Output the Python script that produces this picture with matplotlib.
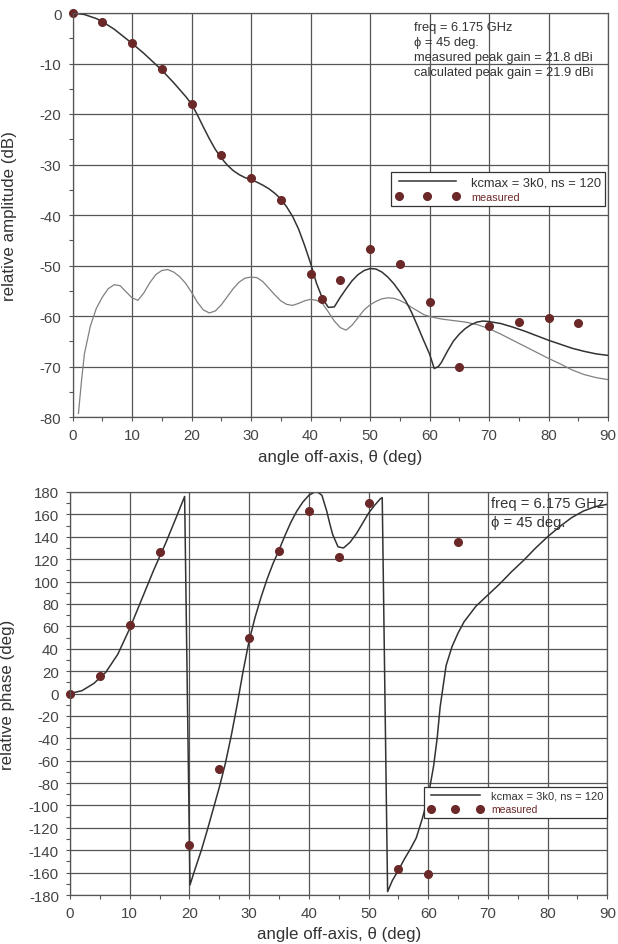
import matplotlib
matplotlib.use("Agg")
import matplotlib.pyplot as plt
from matplotlib.ticker import MultipleLocator

plt.rcParams['font.family'] = ['Liberation Sans', 'DejaVu Sans']
plt.rcParams['axes.unicode_minus'] = False

# ---- amplitude data ----
amp_theta = [0, 2, 4, 5, 7, 10, 12, 15, 17, 19, 20, 21, 22, 23, 24, 25, 26, 27, 28, 29,
             30, 31, 32, 33, 34, 35, 36, 37, 38, 39, 40, 41, 42, 43, 44, 45, 46, 47, 48, 49,
             50, 51, 52, 53, 54, 55, 56, 57, 58, 59, 60, 60.8, 61.5, 62, 63, 64, 65, 66, 67,
             68, 69, 70, 72, 74, 76, 78, 80, 82, 84, 86, 88, 90]
amp_calc = [0, -0.3, -1.1, -1.7, -3.2, -6.0, -8.0, -11.3, -13.8, -16.5, -18.0, -20.2, -22.6,
            -24.9, -27.0, -28.7, -30.1, -31.2, -32.0, -32.6, -33.0, -33.5, -34.1, -34.8,
            -35.7, -36.8, -38.4, -40.3, -42.8, -46.0, -49.5, -53.5, -56.5, -58.3, -58.2,
            -56.3, -54.6, -53.0, -51.8, -51.0, -50.6, -50.7, -51.3, -52.3, -53.6, -55.2,
            -57.0, -59.3, -62.0, -64.8, -67.5, -70.4, -70.0, -69.2, -67.0, -65.0, -63.6,
            -62.5, -61.7, -61.2, -61.0, -61.1, -61.5, -62.2, -63.0, -63.9, -64.8, -65.6,
            -66.4, -67.0, -67.5, -67.8]

xpol_theta = [1, 1.5, 2, 3, 4, 5, 6, 7, 8, 9, 10, 11, 12, 13, 14, 15, 16, 17, 18, 19, 20,
              21, 22, 23, 24, 25, 26, 27, 28, 29, 30, 31, 32, 33, 34, 35, 36, 37, 38, 39, 40,
              41, 42, 43, 44, 45, 46, 47, 48, 49, 50, 51, 52, 53, 54, 55, 56, 57, 58, 59, 60,
              62, 64, 66, 68, 70, 72, 74, 76, 78, 80, 82, 84, 86, 88, 90]
xpol_calc = [-79.3, -73.0, -67.5, -62.0, -58.5, -56.3, -54.6, -53.8, -54.0, -55.2, -56.4,
             -56.9, -55.4, -53.4, -51.8, -51.0, -50.8, -51.3, -52.2, -53.5, -55.3, -57.3,
             -58.8, -59.4, -59.0, -57.8, -56.2, -54.6, -53.3, -52.5, -52.3, -52.4, -53.2,
             -54.5, -55.8, -57.0, -57.7, -57.9, -57.5, -57.0, -56.7, -56.9, -57.5, -59.2,
             -61.0, -62.3, -62.8, -61.8, -60.3, -58.8, -57.8, -57.1, -56.6, -56.4, -56.5,
             -56.9, -57.5, -58.3, -59.0, -59.7, -60.1, -60.6, -60.9, -61.2, -61.7, -62.5,
             -63.6, -64.8, -66.0, -67.2, -68.4, -69.5, -70.7, -71.6, -72.2, -72.6]

amp_meas_theta = [0, 5, 10, 15, 20, 25, 30, 35, 40, 42, 45, 50, 55, 60, 65, 70, 75, 80, 85]
amp_meas = [0, -1.7, -6.0, -11.0, -18.1, -28.2, -32.6, -37.0, -51.6, -56.6, -52.9, -46.7,
            -49.8, -57.3, -70.1, -62.0, -61.1, -60.4, -61.3]

# ---- phase data ----
ph_theta = [0, 2, 4, 5, 6, 8, 10, 12, 14, 15, 16, 17, 18, 19.2, 20.1, 21, 22, 23, 24, 25,
            26, 27, 28, 29, 30, 31, 32, 33, 34, 35, 36, 37, 38, 39, 40, 41, 41.6, 42.2, 43,
            43.5, 44, 44.9, 45.8, 46.9, 48, 49, 50, 51, 52, 52.3, 53.2, 54, 55, 56, 57, 58,
            59, 60, 60.9, 61.5, 62, 63, 64, 65, 66, 68, 70, 72, 74, 76, 78, 80, 82, 84, 86,
            88, 90]
ph_calc = [0, 2.5, 9, 14, 19, 35, 58, 84, 110, 122, 134, 147, 160, 176, -171, -156, -140,
           -122, -103, -84, -63, -38, -10, 20, 47, 68, 86, 102, 116, 128, 141, 153, 163, 171,
           177, 180, 179.5, 177, 163, 152, 142, 131, 130, 135, 143, 152, 161, 168, 174, 175,
           -177, -167, -158, -148, -139, -129, -112, -92, -65, -40, -12, 25, 42, 54, 64, 78,
           88, 98, 109, 119, 130, 140, 149, 157, 163, 167, 169]

ph_meas_theta = [0, 5, 10, 15, 20, 25, 30, 35, 40, 45, 50, 55, 60, 65]
ph_meas = [0, 16, 61, 126, -135, -67, 50, 127, 163, 122, 170, -157, -161, 135]

W, H = 618, 945
fig = plt.figure(figsize=(W / 100, H / 100), dpi=100)

GRID = '#555555'
TXT = '#444444'
RED = '#6b2828'


def fx(px):
    return px / W


def fy(py):
    return 1 - py / H


ax1 = fig.add_axes([fx(72.5), fy(418), fx(608 - 72.5), (418 - 14) / H])
ax2 = fig.add_axes([fx(70), fy(896), fx(607.3 - 70), (896 - 493) / H])

for ax in (ax1, ax2):
    ax.set_xlim(0, 90)
    ax.xaxis.set_major_locator(MultipleLocator(10))
    ax.xaxis.set_minor_locator(MultipleLocator(5))
    ax.grid(True, which='major', color=GRID, lw=0.9)
    ax.set_axisbelow(True)
    for s in ax.spines.values():
        s.set_color(GRID)
        s.set_linewidth(0.9)
    ax.tick_params(which='both', direction='out', length=3, width=0.8, color=GRID,
                   labelsize=10.8, labelcolor=TXT, pad=5)
    ax.set_xlabel('angle off-axis, θ (deg)', fontsize=12.2, color='#333333')

# ---- top: amplitude ----
ax1.plot(xpol_theta, xpol_calc, color='#808080', lw=0.9)
ax1.plot(amp_theta, amp_calc, color='#333333', lw=1.1, label='kcmax = 3k0, ns = 120')
ax1.plot(amp_meas_theta, amp_meas, 'o', color=RED, ms=5.5, label='measured', clip_on=False)
ax1.set_ylim(-80, 0)
ax1.yaxis.set_major_locator(MultipleLocator(10))
ax1.yaxis.set_minor_locator(MultipleLocator(5))
ax1.set_ylabel('relative amplitude (dB)', fontsize=12.2, color='#333333')
ax1.yaxis.set_label_coords((17 - 72.5) / (608 - 72.5), 0.5)
ax1.xaxis.set_label_coords(0.5, -(450 - 418) / 404)

leg1 = ax1.legend(loc='upper right', bbox_to_anchor=(fx(605.3), fy(173.3)),
                  bbox_transform=fig.transFigure, borderaxespad=0, numpoints=3,
                  handlelength=5.0, handletextpad=0.9, fancybox=False, framealpha=1,
                  edgecolor='#333333', fontsize=9.3, labelspacing=0.25, borderpad=0.3)
leg1.get_frame().set_linewidth(0.9)
t1 = leg1.get_texts()
t1[0].set_color('#333333')
t1[1].set_color(RED)
t1[1].set_fontsize(7.8)

notes1 = ['freq = 6.175 GHz', 'ϕ = 45 deg.', 'measured peak gain = 21.8 dBi',
          'calculated peak gain = 21.9 dBi']
for i, s in enumerate(notes1):
    fig.text(fx(414), fy(28.3 + 15 * i), s, fontsize=9.3, color='#333333', va='center')

# ---- bottom: phase ----
ax2.plot(ph_theta, ph_calc, color='#333333', lw=1.1, label='kcmax = 3k0, ns = 120')
ax2.plot(ph_meas_theta, ph_meas, 'o', color=RED, ms=5.5, label='measured', clip_on=False)
ax2.set_ylim(-180, 180)
ax2.yaxis.set_major_locator(MultipleLocator(20))
ax2.yaxis.set_minor_locator(MultipleLocator(10))
ax2.set_ylabel('relative phase (deg)', fontsize=12.2, color='#333333')
ax2.yaxis.set_label_coords((15.5 - 70) / (607.3 - 70), 0.5)
ax2.xaxis.set_label_coords(0.5, -(927 - 896) / 403)

leg2 = ax2.legend(loc='upper right', bbox_to_anchor=(fx(607.3), fy(787.7)),
                  bbox_transform=fig.transFigure, borderaxespad=0, numpoints=3,
                  handlelength=5.0, handletextpad=0.7, fancybox=False, framealpha=1,
                  edgecolor='#333333', fontsize=8, labelspacing=0.35, borderpad=0.35)
leg2.get_frame().set_linewidth(0.9)
t2 = leg2.get_texts()
t2[0].set_color('#333333')
t2[1].set_color(RED)
t2[1].set_fontsize(7.5)

fig.text(fx(490.7), fy(504.3), 'freq = 6.175 GHz', fontsize=10.6, color='#333333', va='center')
fig.text(fx(490.7), fy(522.7), 'ϕ = 45 deg.', fontsize=10.6, color='#333333', va='center')

fig.savefig('out.png', dpi=100)
